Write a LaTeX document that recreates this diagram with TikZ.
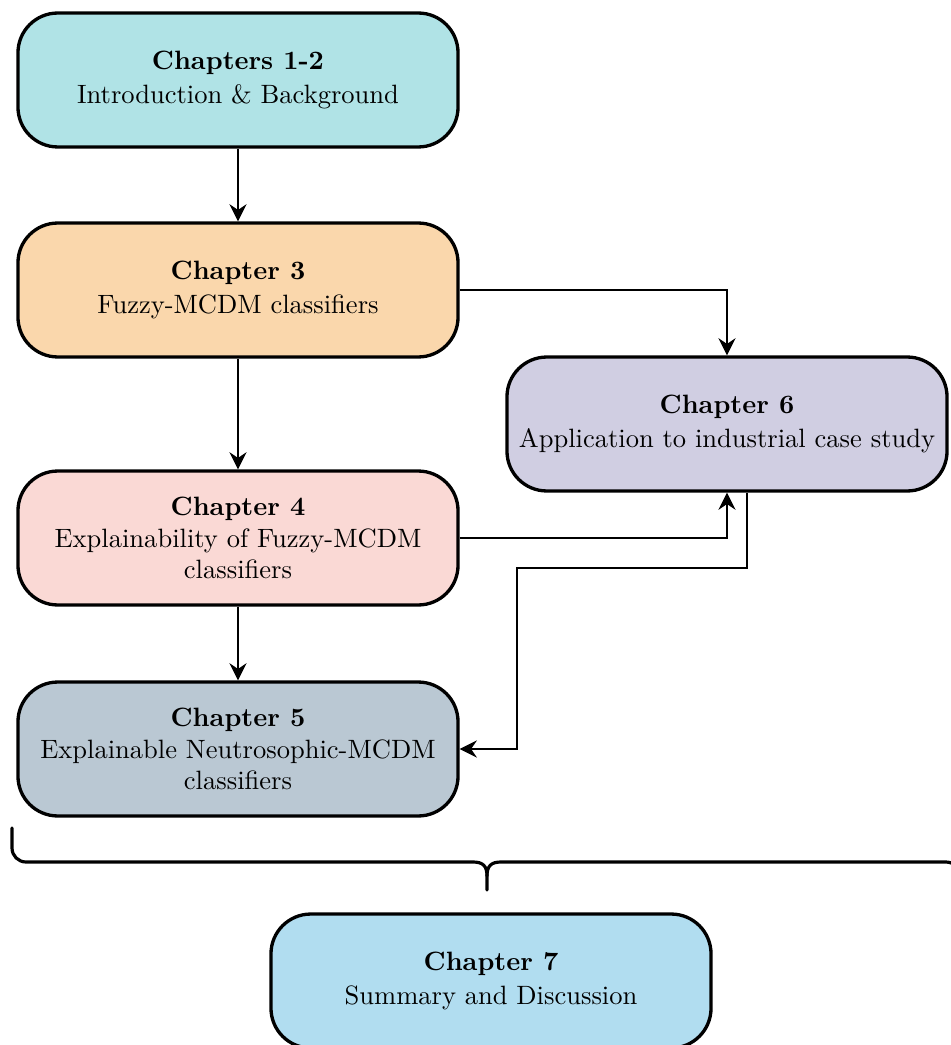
\documentclass[tikz,border=0pt]{standalone}
\usetikzlibrary{arrows.meta,calc}

\definecolor{tealbox}{HTML}{B0E3E6}
\definecolor{orangebox}{HTML}{FAD7AC}
\definecolor{purplebox}{HTML}{D0CEE2}
\definecolor{redbox}{HTML}{FAD9D5}
\definecolor{graybox}{HTML}{BAC8D3}
\definecolor{bluebox}{HTML}{B1DDF0}

\tikzset{
  chapbox/.style={draw=black, line width=1.25pt, rounded corners=15pt,
    minimum width=165.9pt, minimum height=50.5pt, align=center,
    inner sep=2pt, font=\normalsize},
  conn/.style={draw=black, line width=0.6pt,
    -{Stealth[length=6.5pt,width=6.5pt,inset=2.2pt]}},
  bracestyle/.style={draw=black, line width=1.2pt, line cap=round, line join=round}
}

\begin{document}
\begin{tikzpicture}[x=0.377pt,y=-0.377pt]
  \useasboundingbox (0,0) rectangle (950,1045);

  % chapter boxes
  \node[chapbox, fill=tealbox]   (c12) at (238,80)  {\textbf{Chapters 1-2}\\[1pt]Introduction \& Background};
  \node[chapbox, fill=orangebox] (c3)  at (238,290) {\textbf{Chapter 3}\\[1pt]Fuzzy-MCDM classifiers};
  \node[chapbox, fill=purplebox] (c6)  at (727,424) {\textbf{Chapter 6}\\[1pt]Application to industrial case study};
  \node[chapbox, fill=redbox]    (c4)  at (238,538) {\textbf{Chapter 4}\\Explainability of Fuzzy-MCDM\\classifiers};
  \node[chapbox, fill=graybox]   (c5)  at (238,749) {\textbf{Chapter 5}\\Explainable Neutrosophic-MCDM\\classifiers};
  \node[chapbox, fill=bluebox]   (c7)  at (491,981) {\textbf{Chapter 7}\\[1pt]Summary and Discussion};

  % connectors
  \draw[conn] (c12) -- (c3);
  \draw[conn] (c3) -- (c4);
  \draw[conn] (c4) -- (c5);
  \draw[conn] (c3.east) -| (c6.north);
  \draw[conn] (c4.east) -| (c6.south);
  \coordinate (bend) at (517,568);
  \draw[conn] ($(c6.south)+(20,0)$) |- (bend) |- (c5.east);

  % closing brace over chapters 1-6
  \draw[bracestyle]
    (12,828) -- (12,848) arc[start angle=180, end angle=90, radius=14]
    -- (473,862) .. controls (483,862) and (487,866) .. (487,876) -- (487,890);
  \draw[bracestyle]
    (487,876) .. controls (487,866) and (491,862) .. (501,862)
    -- (946,862) arc[start angle=-90, end angle=0, radius=14] -- (960,828);
\end{tikzpicture}
\end{document}
